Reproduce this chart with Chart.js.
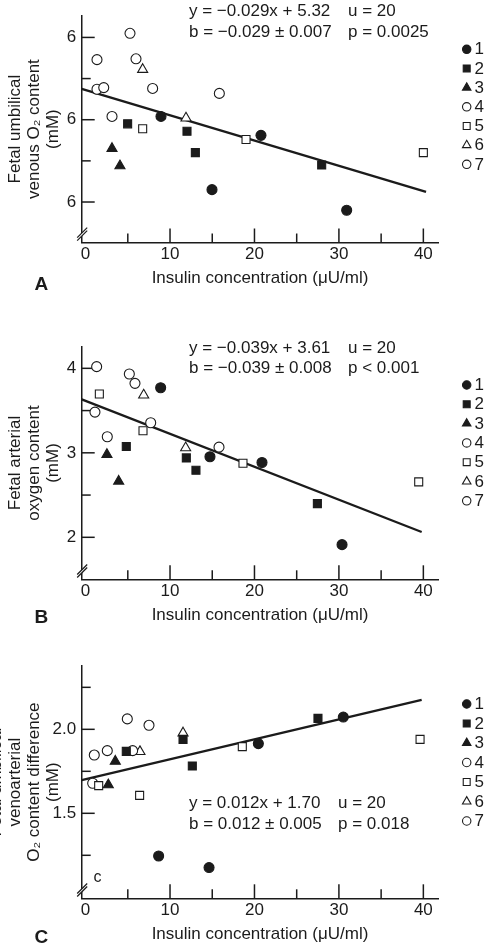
<!DOCTYPE html>
<html>
<head>
<meta charset="utf-8">
<script src="https://cdn.jsdelivr.net/npm/chart.js@4/dist/chart.umd.min.js"></script>
<style>
  html, body { margin: 0; padding: 0; background: #fff; width: 487px; height: 948px; overflow: hidden; }
  .panel { position: absolute; left: 0; width: 487px; }
  canvas { display: block; }
</style>
</head>
<body>
<div class="panel" style="top:0px;height:300px"><canvas id="cA" width="487" height="300"></canvas></div>
<div class="panel" style="top:300px;height:330px"><canvas id="cB" width="487" height="330"></canvas></div>
<div class="panel" style="top:630px;height:318px"><canvas id="cC" width="487" height="318"></canvas></div>
<script>
// ---------------- DATA ----------------
const seriesLabels = ['1', '2', '3', '4', '5', '6', '7'];
const seriesStyles = ['circle', 'rect', 'triangle', 'circle', 'rect', 'triangle', 'circle'];
const seriesFilled = [true, true, true, false, false, false, false];

const xTickValues = [0, 10, 20, 30, 40];
const xMinorValues = [5, 15, 25, 35];
const xTitle = 'Insulin concentration (\u03BCU/ml)';

// Panel A: fetal umbilical venous O2 content
const A_s1 = [[8.93, 5.04], [20.77, 4.81], [14.97, 4.15], [30.92, 3.90]];
const A_s2 = [[4.98, 4.95], [12.01, 4.86], [13.0, 4.60], [27.96, 4.45]];
const A_s3 = [[3.13, 4.65], [4.07, 4.44]];
const A_s4 = [[5.26, 6.05], [5.97, 5.74], [7.94, 5.38], [15.84, 5.32]];
const A_s5 = [[6.76, 4.89], [19.0, 4.76], [40.0, 4.60]];
const A_s6 = [[6.76, 5.61], [11.89, 5.02]];
const A_s7 = [[1.35, 5.73], [1.35, 5.37], [2.15, 5.39], [3.13, 5.04]];
const A_line = [[-0.46, 5.375], [40.32, 4.123]];
const A_yTicks = [4, 5, 6];
const A_yTickLabels = ['6', '6', '6'];
const A_yMinor = [4.5, 5.5];
const A_yTitle = ['Fetal umbilical', 'venous O\u2082 content', '(mM)'];
const A_eq = ['y = \u22120.029x + 5.32', 'u = 20', 'b = \u22120.029 \u00B1 0.007', 'p = 0.0025'];

// Panel B: fetal arterial oxygen content
const B_s1 = [[8.89, 3.77], [14.73, 2.953], [20.89, 2.885], [30.37, 1.913]];
const B_s2 = [[4.82, 3.075], [11.93, 2.94], [13.07, 2.794], [27.45, 2.399]];
const B_s3 = [[2.53, 2.98], [3.92, 2.664]];
const B_s4 = [[5.18, 3.933], [5.85, 3.822], [7.71, 3.356], [15.80, 3.067]];
const B_s5 = [[1.63, 3.696], [6.80, 3.261], [18.64, 2.877], [39.45, 2.656]];
const B_s6 = [[6.88, 3.684], [11.85, 3.059]];
const B_s7 = [[1.31, 4.02], [1.11, 3.482], [2.57, 3.19]];
const B_line = [[-0.46, 3.632], [39.8, 2.063]];
const B_yTicks = [2, 3, 4];
const B_yTickLabels = ['2', '3', '4'];
const B_yMinor = [2.5, 3.5];
const B_yTitle = ['Fetal arterial', 'oxygen content', '(mM)'];
const B_eq = ['y = \u22120.039x + 3.61', 'u = 20', 'b = \u22120.039 \u00B1 0.008', 'p < 0.001'];

// Panel C: fetal umbilical venoarterial O2 content difference
const C_s1 = [[8.65, 1.246], [14.62, 1.177], [20.46, 1.915], [30.52, 2.073]];
const C_s2 = [[4.82, 1.869], [11.54, 1.940], [12.64, 1.782], [27.52, 2.065]];
const C_s3 = [[3.52, 1.81], [2.69, 1.669]];
const C_s4 = [[4.94, 2.062], [7.51, 2.024], [5.57, 1.873]];
const C_s5 = [[1.55, 1.665], [6.40, 1.607], [18.56, 1.897], [39.61, 1.940]];
const C_s6 = [[6.44, 1.867], [11.54, 1.978]];
const C_s7 = [[0.84, 1.679], [1.03, 1.847], [2.57, 1.873]];
const C_line = [[-0.46, 1.698], [39.8, 2.175]];
const C_yTicks = [1.5, 2.0];
const C_yTickLabels = ['1.5', '2.0'];
const C_yMinor = [1.25, 1.75, 2.25];
const C_yTitle = ['Fetal umbilical', 'venoarterial', 'O\u2082 content difference', '(mM)'];
const C_eq = ['y = 0.012x + 1.70', 'u = 20', 'b = 0.012 \u00B1 0.005', 'p = 0.018'];
const C_note = 'c';

// ---------------- STYLE ----------------
const INK = '#1b1b1b';
const FONT = "'Liberation Sans', Arial, Helvetica, sans-serif";
Chart.defaults.font.family = FONT;
Chart.defaults.font.size = 17;
Chart.defaults.color = INK;

function drawMarker(ctx, style, filled, r, x, y) {
  ctx.save();
  ctx.fillStyle = filled ? INK : '#ffffff';
  ctx.strokeStyle = INK;
  ctx.lineWidth = 1.1;
  if (Chart.helpers && Chart.helpers.drawPoint) {
    Chart.helpers.drawPoint(ctx, { pointStyle: style, radius: r, borderWidth: 1.1, rotation: 0 }, x, y);
  } else {
    ctx.beginPath();
    if (style === 'circle') ctx.arc(x, y, r, 0, Math.PI * 2);
    else if (style === 'rect') { const s = r * Math.SQRT1_2; ctx.rect(x - s, y - s, 2 * s, 2 * s); }
    else { ctx.moveTo(x, y - r); ctx.lineTo(x + r * 0.866, y + r / 2); ctx.lineTo(x - r * 0.866, y + r / 2); ctx.closePath(); }
    ctx.fill(); ctx.stroke();
  }
  ctx.restore();
}

const decor = {
  id: 'decor',
  beforeDatasetsDraw(chart, args, o) {
    const ctx = chart.ctx, ca = chart.chartArea, xs = chart.scales.x, ys = chart.scales.y;
    const seg = (x1, y1, x2, y2) => { ctx.beginPath(); ctx.moveTo(x1, y1); ctx.lineTo(x2, y2); ctx.stroke(); };
    ctx.save();
    ctx.strokeStyle = INK;
    ctx.lineWidth = 1.5;
    o.yMajor.forEach(v => { const p = ys.getPixelForValue(v); seg(ca.left, p, ca.left + 13, p); });
    o.yMinor.forEach(v => { const p = ys.getPixelForValue(v); seg(ca.left, p, ca.left + 9, p); });
    o.xMajor.forEach(v => { if (v === 0) return; const p = xs.getPixelForValue(v); seg(p, ca.bottom, p, ca.bottom - 14); });
    o.xMinor.forEach(v => { const p = xs.getPixelForValue(v); seg(p, ca.bottom, p, ca.bottom - 9); });
    // axis break
    const bx = ca.left + 0.5, by = ca.bottom - 8.3;
    ctx.fillStyle = '#ffffff';
    ctx.beginPath();
    ctx.moveTo(bx - 5, by + 6.5); ctx.lineTo(bx + 5, by - 3.5); ctx.lineTo(bx + 5, by - 6.5); ctx.lineTo(bx - 5, by + 3.5);
    ctx.closePath(); ctx.fill();
    ctx.lineWidth = 1.2;
    seg(bx - 5, by + 6.5, bx + 5, by - 3.5);
    seg(bx - 5, by + 3.5, bx + 5, by - 6.5);
    ctx.restore();
  },
  afterDraw(chart, args, o) {
    const ctx = chart.ctx;
    ctx.save();
    ctx.fillStyle = INK;
    ctx.textBaseline = 'middle';
    ctx.textAlign = 'left';
    ctx.font = '17px ' + FONT;
    ctx.fillText(o.eq[0], o.eqX[0], o.eqY[0]);
    ctx.fillText(o.eq[1], o.eqX[1], o.eqY[0]);
    ctx.fillText(o.eq[2], o.eqX[0], o.eqY[1]);
    ctx.fillText(o.eq[3], o.eqX[1], o.eqY[1]);
    if (o.note) { ctx.font = '16px ' + FONT; ctx.fillText(o.note, o.noteX, o.noteY); }
    // legend
    const legR = { circle: 4.2, rect: 4.9, triangle: 4.9 };
    seriesLabels.forEach((lab, i) => {
      const y = o.legTop + i * o.legStep;
      drawMarker(ctx, seriesStyles[i], seriesFilled[i], legR[seriesStyles[i]], 466.7, y);
      ctx.fillStyle = INK;
      ctx.font = '17px ' + FONT;
      ctx.fillText(lab, 474.5, y + 0.5);
    });
    ctx.font = 'bold 19px ' + FONT;
    ctx.fillText(o.letter, 34.5, o.letterY);
    ctx.restore();
  }
};

const pointR = { circle: 5, rect: 5.66, triangle: 5.8 };
const toXY = arr => arr.map(p => ({ x: p[0], y: p[1] }));

function buildChart(id, series, line, yTicks, yTickLabels, yMinor, yTitle, geo, deco) {
  const datasets = series.map((s, i) => ({
    label: seriesLabels[i],
    data: toXY(s),
    pointStyle: seriesStyles[i],
    pointRadius: pointR[seriesStyles[i]],
    pointHoverRadius: pointR[seriesStyles[i]],
    pointBackgroundColor: seriesFilled[i] ? INK : '#ffffff',
    pointBorderColor: INK,
    pointBorderWidth: 1.1,
    showLine: false
  }));
  datasets.push({
    label: 'fit',
    data: toXY(line),
    showLine: true,
    borderColor: INK,
    borderWidth: 2.3,
    pointRadius: 0,
    fill: false
  });
  return new Chart(document.getElementById(id), {
    type: 'scatter',
    data: { datasets },
    options: {
      responsive: false,
      animation: false,
      events: [],
      layout: { padding: { left: 0, right: 48.7, top: geo.top, bottom: geo.bottom } },
      plugins: {
        legend: { display: false },
        tooltip: { enabled: false },
        decor: Object.assign({ yMajor: yTicks, yMinor: yMinor, xMajor: xTickValues, xMinor: xMinorValues }, deco)
      },
      scales: {
        x: {
          type: 'linear',
          min: -0.46,
          max: 41.77,
          afterFit: s => { s.height = 46.2; },
          afterBuildTicks: s => { s.ticks = xTickValues.map(v => ({ value: v })); },
          grid: { display: false, drawTicks: false },
          border: { display: true, color: INK, width: 1.5 },
          ticks: { padding: 2, color: INK, font: { size: 17 }, maxRotation: 0, autoSkip: false, callback: v => String(v) },
          title: { display: true, text: xTitle, color: INK, font: { size: 17 }, padding: { top: 0, bottom: 0 } }
        },
        y: {
          type: 'linear',
          min: geo.yMin,
          max: geo.yMax,
          afterFit: s => { s.width = 81.7; },
          afterBuildTicks: s => { s.ticks = yTicks.map(v => ({ value: v })); },
          grid: { display: false, drawTicks: false },
          border: { display: true, color: INK, width: 1.5 },
          ticks: { padding: 5.5, color: INK, font: { size: 17 }, autoSkip: false, callback: (v, i) => yTickLabels[i] },
          title: { display: true, text: yTitle, color: INK, font: { size: 17, lineHeight: 1.12 }, padding: { top: geo.titlePad, bottom: 0 } }
        }
      }
    },
    plugins: [decor]
  });
}

buildChart('cA', [A_s1, A_s2, A_s3, A_s4, A_s5, A_s6, A_s7], A_line, A_yTicks, A_yTickLabels, A_yMinor, A_yTitle,
  { top: 10, bottom: 11.3, yMin: 3.508, yMax: 6.264, titlePad: 5.5 },
  { eq: A_eq, eqX: [189, 348], eqY: [11.7, 32.3], legTop: 49.3, legStep: 19.17, letter: 'A', letterY: 285 });

buildChart('cB', [B_s1, B_s2, B_s3, B_s4, B_s5, B_s6, B_s7], B_line, B_yTicks, B_yTickLabels, B_yMinor, B_yTitle,
  { top: 46.7, bottom: 4.5, yMin: 1.503, yMax: 4.256, titlePad: 5.5 },
  { eq: B_eq, eqX: [189, 348], eqY: [48.3, 68.3], legTop: 85, legStep: 19.3, letter: 'B', letterY: 318 });

buildChart('cC', [C_s1, C_s2, C_s3, C_s4, C_s5, C_s6, C_s7], C_line, C_yTicks, C_yTickLabels, C_yMinor, C_yTitle,
  { top: 36, bottom: 3.5, yMin: 0.994, yMax: 2.377, titlePad: -13.5 },
  { eq: C_eq, eqX: [189, 338], eqY: [173.3, 194], legTop: 74, legStep: 19.5, letter: 'C', letterY: 308,
    note: C_note, noteX: 93.5, noteY: 248 });
</script>
</body>
</html>
